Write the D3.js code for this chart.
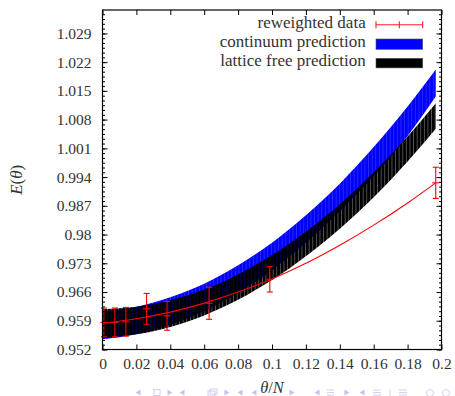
<!DOCTYPE html>
<html><head><meta charset="utf-8">
<script src="https://cdn.jsdelivr.net/npm/d3@7/dist/d3.min.js"></script>
<style>
html,body{margin:0;padding:0;background:#fff;} svg{display:block;}
svg text{font-family:"Liberation Serif","DejaVu Serif",serif;}
</style>
</head><body>
<svg id="chart" width="455" height="396"></svg>
<script>
// ---- data ----
const thetaPoints   = [0.0008, 0.0073, 0.0138, 0.0260, 0.0381, 0.0629, 0.0987, 0.1966];
const energyPoints  = [0.9586, 0.9586, 0.95875, 0.9619, 0.9602, 0.96325, 0.9691, 0.9926];
const energyErrors  = [0.0035, 0.0035, 0.0035, 0.00375, 0.0035, 0.0039, 0.0031, 0.0038];

const curveTheta    = [0, 0.02, 0.04, 0.06, 0.08, 0.10, 0.12, 0.14, 0.16, 0.18, 0.1966];
const fitEnergy     = [0.9584, 0.9595, 0.9611, 0.9633, 0.9660, 0.9692, 0.9730, 0.9774, 0.9823, 0.9877, 0.9926];
const continuumHigh = [0.9612, 0.9624, 0.9647, 0.9680, 0.9725, 0.9780, 0.9847, 0.9924, 1.0013, 1.0112, 1.0202];
const continuumLow  = [0.9545, 0.9557, 0.9580, 0.9613, 0.9658, 0.9713, 0.9780, 0.9857, 0.9942, 1.0040, 1.0136];
const latticeHigh   = [0.9618, 0.9624, 0.9640, 0.9666, 0.9703, 0.9750, 0.9807, 0.9874, 0.9952, 1.0039, 1.0120];
const latticeLow    = [0.9548, 0.9557, 0.9575, 0.9603, 0.9641, 0.9689, 0.9747, 0.9814, 0.9891, 0.9978, 1.0058];

const xTickValues = [0, 0.02, 0.04, 0.06, 0.08, 0.10, 0.12, 0.14, 0.16, 0.18, 0.20];
const xTickLabels = ["0", "0.02", "0.04", "0.06", "0.08", "0.1", "0.12", "0.14", "0.16", "0.18", "0.2"];
const yTickValues = [0.952, 0.959, 0.966, 0.973, 0.980, 0.987, 0.994, 1.001, 1.008, 1.015, 1.022, 1.029];
const yTickLabels = ["0.952", "0.959", "0.966", "0.973", "0.98", "0.987", "0.994", "1.001", "1.008", "1.015", "1.022", "1.029"];
const legendLabels = ["reweighted data", "continuum prediction", "lattice free prediction"];

// ---- layout ----
const X0 = 102.5, X1 = 441.5, Y0 = 349.5, Y1 = 10;
const SERIF = '"Liberation Serif","DejaVu Serif",serif';
const TXT = "#333";

const svg = d3.select("#chart");
const x = d3.scaleLinear().domain([0, 0.2]).range([X0, X1]);
const y = d3.scaleLinear().domain([0.952, 1.0347]).range([Y0, Y1]);

// stripe patterns imitating the filled-curve seams
const defs = svg.append("defs");
const pb = defs.append("pattern").attr("id", "stripeBlue").attr("patternUnits", "userSpaceOnUse")
  .attr("width", 3.6).attr("height", 20).attr("x", 1.8);
pb.append("rect").attr("width", 3.6).attr("height", 20).attr("fill", "#0000ff");
pb.append("rect").attr("x", 3.2).attr("width", 0.4).attr("height", 20).attr("fill", "#5a5aff");
const pk = defs.append("pattern").attr("id", "stripeBlack").attr("patternUnits", "userSpaceOnUse")
  .attr("width", 3.6).attr("height", 20);
pk.append("rect").attr("width", 3.2).attr("height", 20).attr("fill", "#000");
pk.append("rect").attr("x", 3.2).attr("width", 0.4).attr("height", 20).attr("fill", "#000").attr("fill-opacity", 0.55);

const bandArea = (lo, hi) => d3.area()
  .x((d, i) => x(curveTheta[i]))
  .y0((d, i) => y(lo[i]))
  .y1((d, i) => y(hi[i]))
  .curve(d3.curveMonotoneX)(curveTheta);

svg.append("path").attr("d", bandArea(continuumLow, continuumHigh)).attr("fill", "url(#stripeBlue)");
svg.append("path").attr("d", bandArea(latticeLow, latticeHigh)).attr("fill", "url(#stripeBlack)");

// fit curve
const line = d3.line().x((d, i) => x(curveTheta[i])).y((d, i) => y(fitEnergy[i])).curve(d3.curveMonotoneX);
svg.append("path").attr("d", line(curveTheta)).attr("fill", "none").attr("stroke", "#ff0000").attr("stroke-width", 1.1);

// error bars
const eb = svg.append("g").attr("stroke", "#ff0000").attr("stroke-width", 1.1);
thetaPoints.forEach((t, i) => {
  const cx = x(t), yc = y(energyPoints[i]);
  const ylo = y(energyPoints[i] - energyErrors[i]), yhi = y(energyPoints[i] + energyErrors[i]);
  eb.append("line").attr("x1", cx).attr("x2", cx).attr("y1", ylo).attr("y2", yhi);
  eb.append("line").attr("x1", cx - 3).attr("x2", cx + 3).attr("y1", ylo).attr("y2", ylo);
  eb.append("line").attr("x1", cx - 3).attr("x2", cx + 3).attr("y1", yhi).attr("y2", yhi);
  eb.append("line").attr("x1", cx - 3.5).attr("x2", cx + 3.5).attr("y1", yc).attr("y2", yc);
});

// axes
const yMinor = d3.range(0, 84).map(k => 0.952 + k * 0.007 / 6).filter(v => v <= 1.0347);
function styleAxis(g) {
  g.attr("font-family", null).attr("font-size", null);
  g.select(".domain").remove();
  g.selectAll("line").attr("stroke", "#000");
  g.selectAll("text").style("font-family", SERIF).style("font-size", "15.5px").attr("fill", TXT);
}
svg.append("g").attr("transform", `translate(${X0},0)`)
  .call(d3.axisLeft(y).tickValues(yMinor).tickSize(-2.5).tickFormat("")).call(styleAxis);
svg.append("g").attr("transform", `translate(${X0},0)`)
  .call(d3.axisLeft(y).tickValues(yTickValues).tickFormat((d, i) => yTickLabels[i]).tickSize(-5).tickPadding(11))
  .call(styleAxis);
svg.append("g").attr("transform", `translate(${X1},0)`)
  .call(d3.axisRight(y).tickValues(yMinor).tickSize(-2.5).tickFormat("")).call(styleAxis);
svg.append("g").attr("transform", `translate(${X1},0)`)
  .call(d3.axisRight(y).tickValues(yTickValues).tickSize(-5).tickFormat("")).call(styleAxis);
svg.append("g").attr("transform", `translate(0,${Y0})`)
  .call(d3.axisBottom(x).tickValues(xTickValues).tickFormat((d, i) => xTickLabels[i]).tickSize(-5).tickPadding(8))
  .call(styleAxis);
svg.append("g").attr("transform", `translate(0,${Y1})`)
  .call(d3.axisTop(x).tickValues(xTickValues).tickSize(-5).tickFormat("")).call(styleAxis);

svg.append("rect").attr("x", X0).attr("y", Y1).attr("width", X1 - X0).attr("height", Y0 - Y1)
  .attr("fill", "none").attr("stroke", "#000").attr("stroke-width", 1.2);

// axis titles
const xt = svg.append("text").attr("x", (X0 + X1) / 2).attr("y", 392.5).attr("text-anchor", "middle")
  .style("font-family", SERIF).style("font-size", "16.5px").attr("fill", TXT);
xt.append("tspan").attr("font-style", "italic").text("θ");
xt.append("tspan").text("/");
xt.append("tspan").attr("font-style", "italic").text("N");

const yt = svg.append("text").attr("transform", `translate(22,${(Y0 + Y1) / 2}) rotate(-90)`)
  .attr("text-anchor", "middle").style("font-family", SERIF).style("font-size", "17px").attr("fill", TXT);
yt.append("tspan").attr("font-style", "italic").text("E");
yt.append("tspan").text("(");
yt.append("tspan").attr("font-style", "italic").text("θ");
yt.append("tspan").text(")");

// legend
const LX = 365.7, SX0 = 376, SX1 = 422.7;
const baselines = [28.3, 47.3, 66.3];
legendLabels.forEach((lab, i) => {
  svg.append("text").attr("x", LX).attr("y", baselines[i]).attr("text-anchor", "end")
    .style("font-family", SERIF).style("font-size", "17px").attr("fill", TXT).text(lab);
});
const lg = svg.append("g").attr("stroke", "#ff2020").attr("stroke-width", 1.1);
const ly = baselines[0] - 3.6;
lg.append("line").attr("x1", SX0).attr("x2", SX1).attr("y1", ly).attr("y2", ly);
[SX0, SX1, (SX0 + SX1) / 2].forEach(px => {
  lg.append("line").attr("x1", px).attr("x2", px).attr("y1", ly - 3.5).attr("y2", ly + 3.5);
});
svg.append("rect").attr("x", SX0).attr("y", baselines[1] - 8.3).attr("width", SX1 - SX0).attr("height", 10.3)
  .attr("fill", "#0000ff").attr("stroke", "#555").attr("stroke-width", 0.6);
svg.append("rect").attr("x", SX0).attr("y", baselines[2] - 8).attr("width", SX1 - SX0).attr("height", 9.6)
  .attr("fill", "#000").attr("stroke", "#555").attr("stroke-width", 0.6);

// faint beamer navigation symbols at the bottom edge
const nav = svg.append("g").attr("fill", "#c4c4ea").attr("stroke", "#c4c4ea").attr("stroke-width", 0.8);
const triL = cx => `M${cx + 2.5},389.5 L${cx - 2.5},392.5 L${cx + 2.5},395.5 Z`;
const triR = cx => `M${cx - 2.5},389.5 L${cx + 2.5},392.5 L${cx - 2.5},395.5 Z`;
[138, 182, 240, 254, 317, 362].forEach(cx => nav.append("path").attr("d", triL(cx)).attr("stroke", "none"));
[170, 227, 292, 347].forEach(cx => nav.append("path").attr("d", triR(cx)).attr("stroke", "none"));
nav.append("rect").attr("x", 154).attr("y", 389.5).attr("width", 6).attr("height", 6).attr("fill", "none");
nav.append("rect").attr("x", 208).attr("y", 391).attr("width", 7).attr("height", 5).attr("fill", "none");
nav.append("rect").attr("x", 210).attr("y", 389).attr("width", 7).attr("height", 5).attr("fill", "none");
[[327, 334], [373, 381], [399, 407]].forEach(([a, b]) => {
  [390, 392.5, 395].forEach(yy => nav.append("line").attr("x1", a).attr("x2", b).attr("y1", yy).attr("y2", yy));
});
nav.append("line").attr("x1", 390).attr("x2", 390).attr("y1", 389).attr("y2", 396);
nav.append("circle").attr("cx", 430).attr("cy", 393).attr("r", 3.5).attr("fill", "none");
nav.append("circle").attr("cx", 446).attr("cy", 393).attr("r", 3.5).attr("fill", "none");
</script>
</body></html>
